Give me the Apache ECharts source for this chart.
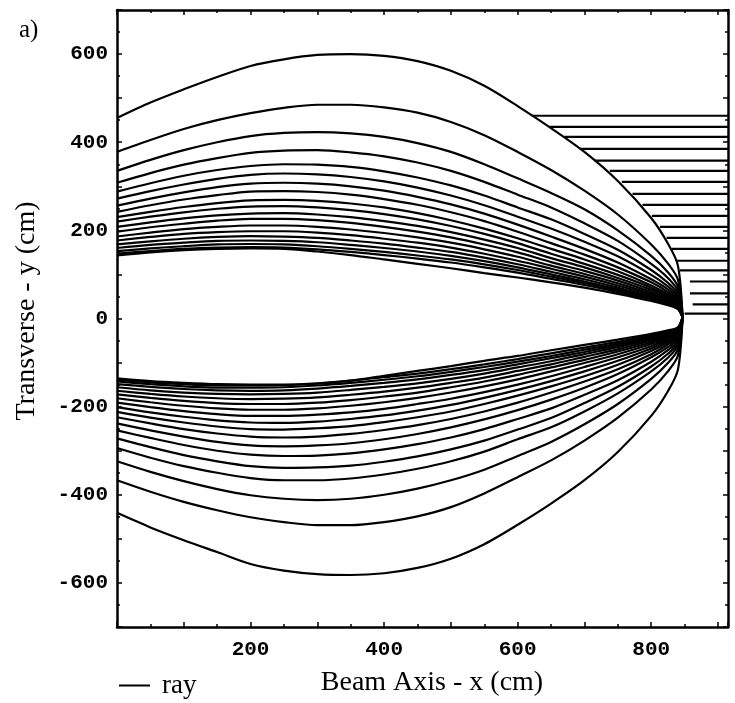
<!DOCTYPE html>
<html>
<head>
<meta charset="utf-8">
<script src="https://cdn.jsdelivr.net/npm/echarts@6/dist/echarts.min.js"></script>
<style>html,body{margin:0;padding:0;background:#fff}#c{width:735px;height:703px}</style>
</head>
<body>
<div id="c"></div>
<script>
// x positions (cm) at which each ray's transverse position was read
const xSamples = [0, 50, 100, 150, 200, 250, 300, 350, 400, 450, 500, 550, 600, 650, 700, 750, 800, 825, 840];
// common focal point of all rays
const focusPoint = [847, 3];
// upper-half rays (y in cm at xSamples)
const upperRays = [
  [455, 490, 520, 548, 573, 588, 598, 600, 596, 584, 562, 528, 482, 432, 378, 312, 228, 170, 120],
  [378, 405, 430, 450, 466, 478, 485, 485, 479, 467, 446, 416, 378, 337, 290, 236, 168, 125, 88],
  [335, 360, 382, 400, 414, 421, 423, 420, 412, 398, 378, 350, 318, 285, 248, 200, 142, 105, 72],
  [308, 330, 349, 364, 376, 381, 382, 377, 368, 354, 335, 310, 281, 252, 216, 176, 124, 92, 63],
  [288, 307, 324, 337, 346, 350, 349, 344, 334, 320, 302, 279, 252, 225, 192, 156, 110, 81, 56],
  [272, 289, 304, 317, 326, 329, 327, 321, 311, 297, 279, 257, 231, 204, 174, 141, 99, 73, 50],
  [256, 272, 286, 298, 306, 308, 306, 300, 290, 276, 259, 238, 213, 186, 158, 127, 89, 66, 45],
  [242, 257, 270, 280, 288, 289, 287, 281, 271, 258, 241, 221, 197, 171, 145, 116, 82, 60, 41],
  [230, 242, 253, 262, 268, 269, 267, 261, 252, 239, 223, 204, 182, 158, 134, 107, 75, 55, 38],
  [220, 231, 241, 249, 254, 255, 252, 246, 237, 225, 210, 192, 171, 147, 124, 99, 70, 51, 35],
  [208, 218, 227, 234, 238, 239, 236, 230, 221, 210, 196, 179, 160, 137, 116, 92, 65, 48, 33],
  [197, 207, 215, 222, 226, 226, 223, 217, 208, 197, 184, 168, 150, 128, 108, 86, 60, 45, 31],
  [186, 195, 203, 208, 211, 211, 208, 202, 194, 184, 172, 157, 140, 120, 101, 80, 56, 42, 29],
  [177, 185, 192, 196, 198, 198, 195, 189, 181, 172, 161, 147, 131, 113, 95, 75, 53, 39, 27],
  [168, 175, 181, 185, 187, 186, 183, 177, 170, 161, 151, 138, 123, 106, 89, 70, 50, 37, 25],
  [160, 167, 172, 176, 177, 176, 173, 167, 160, 152, 142, 130, 116, 100, 84, 66, 47, 35, 24],
  [153, 159, 164, 168, 169, 168, 164, 158, 151, 143, 134, 123, 110, 95, 80, 63, 45, 33, 23],
  [147, 153, 158, 161, 162, 161, 157, 151, 144, 136, 127, 116, 104, 90, 76, 60, 43, 32, 22],
  [143, 150, 155, 158, 159, 158, 152, 144, 134, 124, 114, 103, 93, 82, 70, 56, 40, 30, 21]
];
// lower-half rays (y in cm at xSamples)
const lowerRays = [
  [-441, -474, -503, -530, -557, -572, -580, -582, -578, -566, -545, -512, -468, -420, -367, -303, -221, -165, -116],
  [-367, -393, -416, -435, -451, -462, -469, -469, -462, -449, -428, -397, -360, -322, -277, -225, -161, -120, -84],
  [-324, -348, -369, -387, -401, -409, -412, -409, -400, -386, -367, -343, -312, -280, -240, -194, -137, -101, -70],
  [-294, -316, -335, -350, -362, -367, -367, -363, -354, -341, -324, -302, -274, -247, -211, -170, -120, -89, -61],
  [-272, -292, -310, -324, -335, -339, -338, -334, -325, -313, -297, -277, -252, -226, -192, -155, -109, -80, -55],
  [-254, -271, -287, -300, -309, -312, -311, -306, -297, -285, -270, -251, -228, -204, -173, -140, -98, -72, -50],
  [-238, -254, -268, -280, -288, -290, -288, -283, -274, -262, -247, -229, -208, -184, -157, -126, -88, -65, -45],
  [-224, -238, -251, -261, -268, -270, -268, -262, -253, -242, -228, -211, -191, -168, -143, -115, -81, -59, -41],
  [-212, -225, -236, -245, -251, -252, -249, -244, -235, -224, -211, -194, -175, -154, -131, -105, -74, -54, -38],
  [-201, -213, -223, -231, -236, -237, -234, -228, -220, -209, -196, -180, -162, -142, -120, -96, -68, -50, -35],
  [-191, -201, -210, -217, -221, -221, -218, -213, -205, -194, -182, -167, -150, -131, -110, -88, -63, -46, -32],
  [-181, -190, -198, -204, -207, -207, -204, -198, -190, -180, -168, -154, -138, -120, -101, -81, -58, -43, -30],
  [-172, -180, -187, -192, -194, -194, -191, -185, -177, -168, -156, -143, -128, -111, -94, -75, -54, -40, -28],
  [-164, -171, -177, -181, -183, -182, -179, -173, -166, -157, -146, -134, -119, -104, -87, -70, -50, -37, -26],
  [-156, -163, -168, -171, -172, -171, -168, -162, -155, -147, -137, -125, -111, -97, -81, -65, -47, -35, -25],
  [-149, -155, -160, -163, -164, -163, -159, -153, -146, -138, -128, -117, -104, -90, -76, -61, -44, -33, -24],
  [-143, -149, -154, -157, -157, -156, -152, -146, -139, -131, -121, -110, -98, -85, -71, -57, -41, -31, -22],
  [-139, -145, -149, -152, -152, -151, -147, -141, -133, -125, -115, -104, -92, -79, -66, -53, -38, -29, -21],
  [-136, -142, -146, -149, -150, -150, -148, -141, -130, -119, -108, -96, -85, -72, -60, -48, -35, -27, -20]
];
// incoming horizontal rays on the right: height and left end (cm)
const hLevels = [460, 435, 412, 385, 358, 335, 310, 283, 258, 233, 208, 183, 158, 131, 109, 84, 57, 32, 11];
const hStarts = [621, 648, 670, 693, 715, 738, 756, 772, 787, 801, 813, 823, 831, 838, 843, 858, 858, 862, 850];
const hEnd = 915;
// axis tick labels
const xTickLabels = [200, 400, 600, 800];
const yTickLabels = [-600, -400, -200, 0, 200, 400, 600];

const chart = echarts.init(document.getElementById('c'), null, {renderer: 'canvas'});
const lineStyle = {color: '#000', width: 2.2};
const series = [];
function addRay(ys) {
  const d = ys.map((y, i) => [xSamples[i], y]);
  d.push(focusPoint);
  series.push({name: 'ray', type: 'line', data: d, symbol: 'none', smooth: 0.3,
    itemStyle: {color: '#000'}, lineStyle: lineStyle, silent: true, animation: false});
}
upperRays.forEach(addRay);
lowerRays.forEach(addRay);
hLevels.forEach((h, i) => {
  series.push({name: 'ray', type: 'line', data: [[hStarts[i], h], [hEnd, h]], symbol: 'none',
    itemStyle: {color: '#000'}, lineStyle: lineStyle, silent: true, animation: false});
});

const tickFont = {fontFamily: 'Liberation Mono', fontWeight: 'bold', fontSize: 21, color: '#000'};
const axLine = {show: true, onZero: false, lineStyle: {color: '#000', width: 2.5}};
function xAx(pos, labels) {
  return {type: 'value', position: pos, min: 0, max: 915, interval: 100,
    axisLine: axLine, splitLine: {show: false},
    axisTick: {show: true, inside: true, length: 5, lineStyle: {color: '#000', width: 1.5}},
    minorTick: {show: true, splitNumber: 2, length: 3, lineStyle: {color: '#000', width: 1.5}},
    axisLabel: {show: labels, margin: 12, ...tickFont,
      formatter: v => xTickLabels.includes(v) ? String(v) : ''}};
}
function yAx(pos, labels) {
  return {type: 'value', position: pos, min: -700, max: 700, interval: 100,
    axisLine: axLine, splitLine: {show: false},
    axisTick: {show: true, inside: true, length: 5, lineStyle: {color: '#000', width: 1.5}},
    minorTick: {show: true, splitNumber: 2, length: 3, lineStyle: {color: '#000', width: 1.5}},
    axisLabel: {show: labels, margin: 9, ...tickFont,
      formatter: v => yTickLabels.includes(v) ? String(v) : ''}};
}

chart.setOption({
  animation: false,
  color: ['#000'],
  backgroundColor: '#fff',
  grid: {left: 117, right: 7, top: 10, bottom: 76, containLabel: false},
  xAxis: [xAx('bottom', true), xAx('top', false)],
  yAxis: [yAx('left', true), yAx('right', false)],
  legend: {data: [{name: 'ray', icon: 'rect', itemStyle: {color: '#000'}}], left: 114, top: 667,
    itemWidth: 31, itemHeight: 2, selectedMode: false,
    textStyle: {fontFamily: 'Liberation Serif', fontSize: 27, color: '#000', padding: [0, 0, 0, 7]}},
  series: series,
  graphic: [
    {type: 'text', left: 19, top: 18, style: {text: 'a)', font: '25px "Liberation Serif"', fill: '#000'}},
    {type: 'text', x: 432, y: 683, style: {text: 'Beam Axis - x (cm)', font: '28px "Liberation Serif"',
      fill: '#000', align: 'center', verticalAlign: 'middle'}},
    {type: 'text', x: 27, y: 311, rotation: Math.PI / 2, style: {text: 'Transverse - y (cm)',
      font: '28px "Liberation Serif"', fill: '#000', align: 'center', verticalAlign: 'middle'}}
  ]
});
</script>
</body>
</html>
